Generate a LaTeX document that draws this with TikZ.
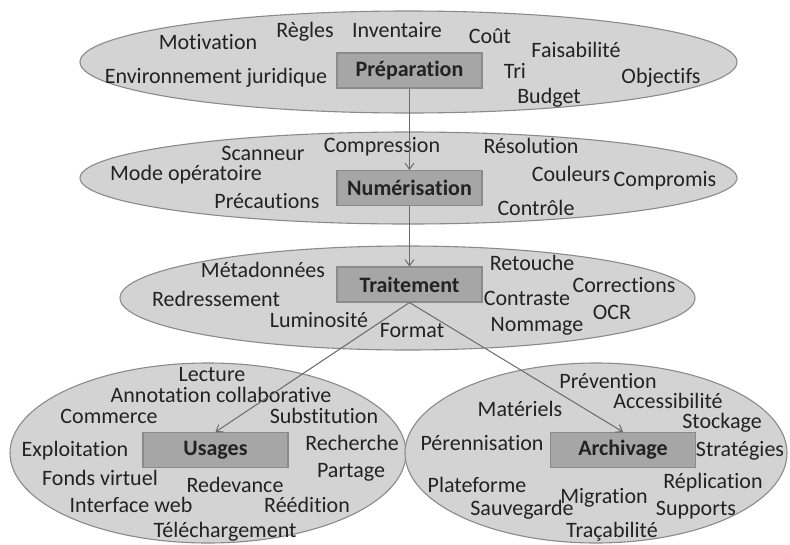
\documentclass[tikz,border=0pt]{standalone}
\usepackage{fontspec}
\setmainfont[Ligatures=NoCommon]{Carlito}
\usetikzlibrary{shapes.geometric,arrows.meta}

\definecolor{fondE}{HTML}{D3D3D3}
\definecolor{fondB}{HTML}{A6A6A6}
\definecolor{bord}{HTML}{8A8A8A}
\definecolor{texte}{HTML}{222222}
\definecolor{trait}{HTML}{6A6A6A}

\tikzset{
  champ/.style={ellipse,draw=bord,line width=1.1pt,fill=fondE,inner sep=0pt},
  etape/.style={rectangle,draw=bord,line width=1.1pt,fill=fondB,minimum width=145pt,
                minimum height=35pt,inner sep=0pt,font=\fontsize{22}{26}\selectfont\bfseries,text=texte},
  mot/.style={inner sep=0pt,text=texte},
  fleche/.style={draw=trait,line width=1pt,-{Straight Barb[length=6pt,width=9pt]}}
}

\begin{document}
\begin{tikzpicture}[x=1pt,y=-1pt,font=\fontsize{22}{26}\selectfont]
\useasboundingbox (0,0) rectangle (790,544);

% les champs
\node[champ,minimum width=657pt,minimum height=102pt] (prepE) at (408.5,62) {};
\node[champ,minimum width=657pt,minimum height=92pt] (numE) at (408.5,178) {};
\node[champ,minimum width=575pt,minimum height=104pt] (traitE) at (407.5,298) {};
\node[champ,minimum width=396pt,minimum height=180pt] (usagesE) at (208,453) {};
\node[champ,minimum width=382pt,minimum height=180pt] (archivE) at (596,453) {};

% les etapes
\node[etape] (prep) at (409.5,70.5) {Préparation};
\node[etape] (num) at (409.5,188) {Numérisation};
\node[etape] (trait) at (409.5,284.5) {Traitement};
\node[etape] (usages) at (215.5,450) {Usages};
\node[etape] (archiv) at (623,450) {Archivage};

% preparation
\foreach \x/\y/\m [count=\i] in {208/42/Motivation, 305/32/Règles, 216/78/Environnement juridique,
    397/30/Inventaire, 490/36/Coût, 576/50/Faisabilité, 515/71/Tri, 661/78/Objectifs, 549/98/Budget}
  \node[mot] (p\i) at (\x,\y) {\m};

% numerisation
\foreach \x/\y/\m [count=\i] in {263/153/Scanneur, 186/175/Mode opératoire, 267/201/Précautions,
    382/147/Compression, 531/146/Résolution, 571/174/Couleurs, 665/181/Compromis, 536/208/Contrôle}
  \node[mot] (n\i) at (\x,\y) {\m};

% traitement
\foreach \x/\y/\m [count=\i] in {263/270/Métadonnées, 216/299/Redressement, 319/320/Luminosité,
    412/331/Format, 532/263/Retouche, 624/285/Corrections, 527/298/Contraste, 612/312/OCR, 537/326/Nommage}
  \node[mot] (t\i) at (\x,\y) {\m};

% usages
\foreach \x/\y/\m [count=\i] in {212/375/Lecture, 221/395/Annotation collaborative, 109/416/Commerce,
    324/416/Substitution, 75/451/Exploitation, 352/443/Recherche, 351/472/Partage, 100/478/Fonds virtuel,
    235/485/Redevance, 131/505/Interface web, 307/505/Réédition, 225/532/Téléchargement}
  \node[mot] (u\i) at (\x,\y) {\m};

% archivage
\foreach \x/\y/\m [count=\i] in {608/381/Prévention, 668/401/Accessibilité, 520/409/Matériels,
    722/423/Stockage, 482/443/Pérennisation, 740/451/Stratégies, 477/485/Plateforme, 713/483/Réplication,
    604/498/Migration, 522/510/Sauvegarde, 696/510/Supports, 612/532/Traçabilité}
  \node[mot] (a\i) at (\x,\y) {\m};

% fleches
\draw[fleche] (prep) -- (num);
\draw[fleche] (num) -- (trait);
\draw[fleche] (trait.south) -- (usages.north);
\draw[fleche] (trait.south) -- (archiv.north);
\end{tikzpicture}
\end{document}
